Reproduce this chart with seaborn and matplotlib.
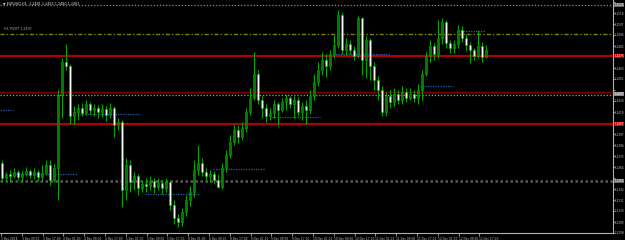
import numpy as np
import pandas as pd
import matplotlib
matplotlib.use("Agg")
import matplotlib.pyplot as plt
import seaborn as sns

# ---------------- data ----------------
header = "EURUSD,H1  1.2481 1.2483 1.2480 1.2481"
pivot_text = "H1 PIVOT 1.2497"
open_first = 1.2368
close = [1.2353, 1.2357, 1.2355, 1.2359, 1.2354, 1.2357, 1.2360, 1.2356, 1.2359, 1.2354,
         1.2358, 1.2366, 1.2351, 1.2363, 1.2436, 1.2469, 1.2465, 1.2415, 1.2419, 1.2423,
         1.2418, 1.2427, 1.2421, 1.2423, 1.2419, 1.2422, 1.2416, 1.2423, 1.2406, 1.2409,
         1.2341, 1.2366, 1.2349, 1.2355, 1.2343, 1.2347, 1.2345, 1.2350, 1.2344, 1.2348,
         1.2343, 1.2349, 1.2326, 1.2313, 1.2309, 1.2319, 1.2331, 1.2339, 1.2361, 1.2368,
         1.2359, 1.2355, 1.2357, 1.2351, 1.2344, 1.2363, 1.2376, 1.2389, 1.2401, 1.2394,
         1.2403, 1.2419, 1.2433, 1.2457, 1.2431, 1.2423, 1.2415, 1.2418, 1.2427, 1.2421,
         1.2429, 1.2433, 1.2427, 1.2431, 1.2419, 1.2425, 1.2421, 1.2435, 1.2449, 1.2461,
         1.2471, 1.2465, 1.2477, 1.2486, 1.2516, 1.2481, 1.2487, 1.2481, 1.2475, 1.2513,
         1.2471, 1.2491, 1.2465, 1.2451, 1.2441, 1.2419, 1.2435, 1.2429, 1.2437, 1.2431,
         1.2439, 1.2433, 1.2437, 1.2433, 1.2441, 1.2457, 1.2475, 1.2485, 1.2477, 1.2493,
         1.2509, 1.2488, 1.2483, 1.2487, 1.2501, 1.2493, 1.2486, 1.2481, 1.2475, 1.2485,
         1.2474, 1.2481]
high = [1.2371, 1.2359, 1.2361, 1.2363, 1.2361, 1.2360, 1.2364, 1.2362, 1.2363, 1.2361,
        1.2366, 1.2371, 1.2371, 1.2367, 1.2441, 1.2473, 1.2487, 1.2467, 1.2425, 1.2427,
        1.2428, 1.2431, 1.2429, 1.2427, 1.2426, 1.2427, 1.2425, 1.2428, 1.2425, 1.2413,
        1.2411, 1.2373, 1.2371, 1.2359, 1.2357, 1.2351, 1.2353, 1.2355, 1.2353, 1.2353,
        1.2351, 1.2353, 1.2351, 1.2331, 1.2317, 1.2323, 1.2336, 1.2345, 1.2371, 1.2386,
        1.2373, 1.2363, 1.2361, 1.2360, 1.2357, 1.2368, 1.2381, 1.2396, 1.2407, 1.2406,
        1.2409, 1.2423, 1.2443, 1.2479, 1.2461, 1.2435, 1.2427, 1.2423, 1.2431, 1.2429,
        1.2433, 1.2437, 1.2435, 1.2435, 1.2434, 1.2429, 1.2431, 1.2441, 1.2457, 1.2469,
        1.2479, 1.2477, 1.2481, 1.2496, 1.2521, 1.2519, 1.2493, 1.2491, 1.2485, 1.2515,
        1.2514, 1.2495, 1.2493, 1.2469, 1.2455, 1.2445, 1.2439, 1.2441, 1.2443, 1.2441,
        1.2445, 1.2443, 1.2443, 1.2441, 1.2447, 1.2461, 1.2479, 1.2491, 1.2488, 1.2511,
        1.2513, 1.2511, 1.2491, 1.2491, 1.2506, 1.2505, 1.2497, 1.2489, 1.2483, 1.2501,
        1.2489, 1.2486]
low = [1.2349, 1.2351, 1.2349, 1.2353, 1.2351, 1.2349, 1.2355, 1.2353, 1.2352, 1.2350,
       1.2351, 1.2356, 1.2346, 1.2349, 1.2331, 1.2413, 1.2461, 1.2407, 1.2406, 1.2411,
       1.2415, 1.2416, 1.2417, 1.2415, 1.2413, 1.2414, 1.2410, 1.2413, 1.2394, 1.2401,
       1.2324, 1.2331, 1.2339, 1.2341, 1.2336, 1.2339, 1.2339, 1.2341, 1.2338, 1.2341,
       1.2337, 1.2339, 1.2321, 1.2307, 1.2304, 1.2305, 1.2315, 1.2325, 1.2334, 1.2356,
       1.2355, 1.2351, 1.2349, 1.2347, 1.2343, 1.2342, 1.2359, 1.2373, 1.2386, 1.2388,
       1.2391, 1.2399, 1.2416, 1.2431, 1.2427, 1.2413, 1.2409, 1.2411, 1.2413, 1.2405,
       1.2419, 1.2421, 1.2423, 1.2413, 1.2415, 1.2411, 1.2407, 1.2417, 1.2431, 1.2445,
       1.2456, 1.2454, 1.2461, 1.2473, 1.2483, 1.2477, 1.2476, 1.2477, 1.2471, 1.2473,
       1.2456, 1.2453, 1.2451, 1.2441, 1.2431, 1.2415, 1.2415, 1.2423, 1.2425, 1.2427,
       1.2427, 1.2429, 1.2431, 1.2429, 1.2427, 1.2431, 1.2455, 1.2469, 1.2471, 1.2473,
       1.2487, 1.2483, 1.2478, 1.2478, 1.2483, 1.2489, 1.2481, 1.2468, 1.2471, 1.2473,
       1.2469, 1.2473]

x_labels = ["3 Dec 2014", "3 Dec 09:00", "3 Dec 17:00", "4 Dec 01:00", "4 Dec 09:00",
            "4 Dec 17:00", "5 Dec 01:00", "5 Dec 09:00", "5 Dec 17:00", "8 Dec 01:00",
            "8 Dec 09:00", "8 Dec 17:00", "9 Dec 01:00", "9 Dec 09:00", "9 Dec 17:00",
            "10 Dec 01:00", "10 Dec 09:00", "10 Dec 17:00", "11 Dec 01:00", "11 Dec 09:00",
            "11 Dec 17:00", "12 Dec 01:00", "12 Dec 09:00", "12 Dec 17:00"]
y_ticks = [1.2529, 1.2518, 1.2507, 1.2496, 1.2485, 1.2474, 1.2463, 1.2452, 1.2441, 1.2430,
           1.2419, 1.2408, 1.2397, 1.2386, 1.2375, 1.2364, 1.2353, 1.2342, 1.2331, 1.2320,
           1.2309, 1.2298]

# horizontal levels
top_level = 1.2526
pivot_level = 1.2497
red_levels = [1.2475, 1.2407]
red_thin_level = 1.2439
gray_level = 1.2437
gray_low_level = 1.2350
# short blue dotted segments: price, start bar, end bar
seg_price = [1.2421, 1.2417, 1.2357, 1.2337, 1.2362, 1.2414, 1.2477, 1.2445, 1.2500]
seg_start = [-0.5, 19.5, 3.25, 35.75, 52.75, 67.5, 82.75, 104.5, 114.0]
seg_end = [2.75, 34.25, 18.75, 49.5, 65.75, 79.5, 97.0, 112.75, 120.75]

# ---------------- figure ----------------
sns.set_theme(style="dark", rc={"axes.facecolor": "black", "figure.facecolor": "black"})
W, H = 625, 240
fig = plt.figure(figsize=(W / 100, H / 100), dpi=100)
ax = fig.add_axes([0, 1 - 233 / H, 613 / W, 233 / H])
ax.set_facecolor("black")

opens = [open_first] + close[:-1]
df = pd.DataFrame({"i": np.arange(len(close)), "open": opens, "close": close,
                   "high": high, "low": low})
df["bull"] = df["close"] >= df["open"]

ax.set_xlim(-0.5, 152.75)
ax.set_ylim(1.2298, 1.2531)

# levels
kw = dict(xmin=0, xmax=1, zorder=1)
ax.axhline(top_level, color="#8a8a8a", lw=0.9, ls=(0, (1, 1.5)), **kw)
ax.axhline(pivot_level, color="#7f7f00", lw=1.0, ls=(0, (3, 1.5, 1, 1.5)), **kw)
for lv in red_levels:
    ax.axhline(lv, color="#b00000", lw=1.6, **kw)
ax.axhline(red_thin_level, color="#800000", lw=1.0, **kw)
ax.axhline(gray_level - 0.00008, color="#9a9a9a", lw=0.9, ls=(0, (1, 1.5)), **kw)
ax.axhline(gray_low_level, color="#5a5a5a", lw=1.8, ls=(0, (1, 1)), **kw)
ax.hlines(seg_price, seg_start, seg_end, color="#2060b0", lw=0.9, ls=(0, (1, 1)), zorder=2)

# wicks
ax.vlines(df["i"], df["low"], df["high"], color="#00a800", lw=0.8, zorder=3)
# bodies
bw = 0.6
bull = df[df["bull"]]
bear = df[~df["bull"]]
ax.bar(bull["i"], (bull["close"] - bull["open"]).clip(lower=0.00004), bottom=bull["open"],
       width=bw, color="#007c00", edgecolor="#00a800", linewidth=0.4, zorder=4)
ax.bar(bear["i"], (bear["open"] - bear["close"]).clip(lower=0.00004), bottom=bear["close"],
       width=bw, color="#f0fff0", edgecolor="#00a800", linewidth=0.4, zorder=4)

# axes styling
for s in ["left", "top"]:
    ax.spines[s].set_visible(False)
for s in ["right", "bottom"]:
    ax.spines[s].set_color("#b0b0b0")
    ax.spines[s].set_linewidth(0.8)
ax.grid(False)
ax.yaxis.tick_right()
boxed = red_levels + [gray_level, gray_low_level, top_level]
ax.set_yticks(y_ticks)
ax.set_yticklabels(["" if min(abs(v - b) for b in boxed) < 0.0006 else f"{v:.4f}"
                    for v in y_ticks])
ax.tick_params(axis="y", colors="#c8c8c8", labelsize=2.0, length=1.2, width=0.5, pad=0.4,
               right=True, left=False)
xt = np.arange(len(x_labels)) * 5.2 - 0.25
ax.set_xticks(xt)
ax.set_xticklabels(x_labels, ha="left")
ax.tick_params(axis="x", colors="#c8c8c8", labelsize=2.1, length=2, width=0.5, pad=0.8,
               bottom=True)

# level labels on the right axis
def box_label(val, fc, tc="white"):
    ax.annotate(f"{val:.4f}", xy=(1.0, val), xycoords=("axes fraction", "data"),
                xytext=(1.0, 0), textcoords="offset points", ha="left", va="center",
                fontsize=2.0, color=tc, zorder=10, annotation_clip=False,
                bbox=dict(boxstyle="square,pad=0.12", fc=fc, ec="none"))

for lv in red_levels:
    box_label(lv, "#d00000")
box_label(gray_level, "#8a8a8a")
box_label(gray_low_level, "#6a6a6a")
box_label(top_level, "#6a6a6a")

# texts
fig.text(3 / W, 1 - 4 / H, "\u25BC " + header, color="#e0e0e0", fontsize=2.4,
         ha="left", va="center")
ax.text(0.5, pivot_level + 0.00025, pivot_text, color="#b0b0b0", fontsize=2.3,
        ha="left", va="bottom", zorder=6)

fig.savefig("out.png", dpi=100, facecolor="black")
